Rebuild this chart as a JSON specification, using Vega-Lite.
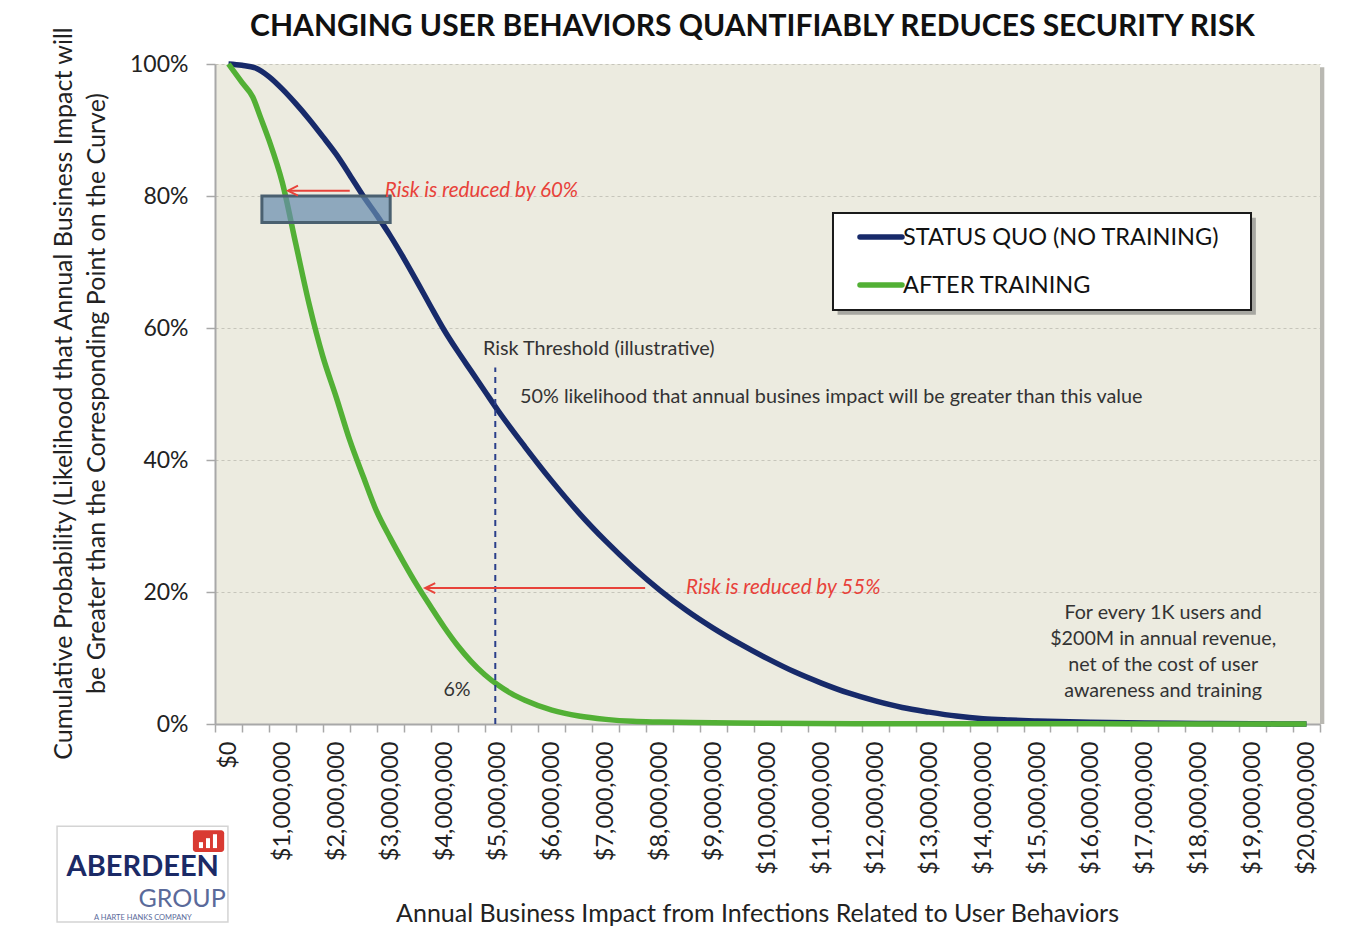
{
  "$schema": "https://vega.github.io/schema/vega-lite/v6.json",
  "width": 1105,
  "height": 660,
  "autosize": {"type": "none"},
  "padding": {"left": 215, "top": 64, "right": 25, "bottom": 202},
  "background": "white",
  "config": {"font": "Lato", "view": {"fill": "#ecebe0", "stroke": null}},
  "title": {"text": "CHANGING USER BEHAVIORS QUANTIFIABLY REDUCES SECURITY RISK", "font": "Lato", "fontSize": 30, "fontWeight": "bold", "color": "#111111", "anchor": "middle", "offset": -16, "dx": -15},
  "datasets": {
    "curves": [
      {"series": "STATUS QUO (NO TRAINING)", "x": 0, "y": 1.0},
      {"series": "STATUS QUO (NO TRAINING)", "x": 250000, "y": 0.998},
      {"series": "STATUS QUO (NO TRAINING)", "x": 500000, "y": 0.994},
      {"series": "STATUS QUO (NO TRAINING)", "x": 750000, "y": 0.981},
      {"series": "STATUS QUO (NO TRAINING)", "x": 1000000, "y": 0.962},
      {"series": "STATUS QUO (NO TRAINING)", "x": 1250000, "y": 0.94},
      {"series": "STATUS QUO (NO TRAINING)", "x": 1500000, "y": 0.916},
      {"series": "STATUS QUO (NO TRAINING)", "x": 1750000, "y": 0.89},
      {"series": "STATUS QUO (NO TRAINING)", "x": 2000000, "y": 0.863},
      {"series": "STATUS QUO (NO TRAINING)", "x": 2250000, "y": 0.832},
      {"series": "STATUS QUO (NO TRAINING)", "x": 2500000, "y": 0.8},
      {"series": "STATUS QUO (NO TRAINING)", "x": 2750000, "y": 0.771},
      {"series": "STATUS QUO (NO TRAINING)", "x": 3000000, "y": 0.74},
      {"series": "STATUS QUO (NO TRAINING)", "x": 3250000, "y": 0.706},
      {"series": "STATUS QUO (NO TRAINING)", "x": 3500000, "y": 0.67},
      {"series": "STATUS QUO (NO TRAINING)", "x": 3750000, "y": 0.633},
      {"series": "STATUS QUO (NO TRAINING)", "x": 4000000, "y": 0.597},
      {"series": "STATUS QUO (NO TRAINING)", "x": 4250000, "y": 0.565},
      {"series": "STATUS QUO (NO TRAINING)", "x": 4500000, "y": 0.535},
      {"series": "STATUS QUO (NO TRAINING)", "x": 4750000, "y": 0.505},
      {"series": "STATUS QUO (NO TRAINING)", "x": 5000000, "y": 0.475},
      {"series": "STATUS QUO (NO TRAINING)", "x": 5500000, "y": 0.42},
      {"series": "STATUS QUO (NO TRAINING)", "x": 6000000, "y": 0.368},
      {"series": "STATUS QUO (NO TRAINING)", "x": 6500000, "y": 0.32},
      {"series": "STATUS QUO (NO TRAINING)", "x": 7000000, "y": 0.277},
      {"series": "STATUS QUO (NO TRAINING)", "x": 7500000, "y": 0.238},
      {"series": "STATUS QUO (NO TRAINING)", "x": 8000000, "y": 0.203},
      {"series": "STATUS QUO (NO TRAINING)", "x": 8500000, "y": 0.172},
      {"series": "STATUS QUO (NO TRAINING)", "x": 9000000, "y": 0.145},
      {"series": "STATUS QUO (NO TRAINING)", "x": 9500000, "y": 0.121},
      {"series": "STATUS QUO (NO TRAINING)", "x": 10000000, "y": 0.099},
      {"series": "STATUS QUO (NO TRAINING)", "x": 10500000, "y": 0.079},
      {"series": "STATUS QUO (NO TRAINING)", "x": 11000000, "y": 0.062},
      {"series": "STATUS QUO (NO TRAINING)", "x": 11500000, "y": 0.047},
      {"series": "STATUS QUO (NO TRAINING)", "x": 12000000, "y": 0.035},
      {"series": "STATUS QUO (NO TRAINING)", "x": 12500000, "y": 0.025},
      {"series": "STATUS QUO (NO TRAINING)", "x": 13000000, "y": 0.018},
      {"series": "STATUS QUO (NO TRAINING)", "x": 13500000, "y": 0.012},
      {"series": "STATUS QUO (NO TRAINING)", "x": 14000000, "y": 0.008},
      {"series": "STATUS QUO (NO TRAINING)", "x": 14500000, "y": 0.006},
      {"series": "STATUS QUO (NO TRAINING)", "x": 15000000, "y": 0.0045},
      {"series": "STATUS QUO (NO TRAINING)", "x": 16000000, "y": 0.0025},
      {"series": "STATUS QUO (NO TRAINING)", "x": 17000000, "y": 0.0015},
      {"series": "STATUS QUO (NO TRAINING)", "x": 18000000, "y": 0.0008},
      {"series": "STATUS QUO (NO TRAINING)", "x": 19000000, "y": 0.0003},
      {"series": "STATUS QUO (NO TRAINING)", "x": 20000000, "y": 0.0},
      {"series": "AFTER TRAINING", "x": 0, "y": 1.0},
      {"series": "AFTER TRAINING", "x": 250000, "y": 0.972},
      {"series": "AFTER TRAINING", "x": 450000, "y": 0.95},
      {"series": "AFTER TRAINING", "x": 600000, "y": 0.918},
      {"series": "AFTER TRAINING", "x": 750000, "y": 0.885},
      {"series": "AFTER TRAINING", "x": 1000000, "y": 0.82},
      {"series": "AFTER TRAINING", "x": 1250000, "y": 0.727},
      {"series": "AFTER TRAINING", "x": 1500000, "y": 0.635},
      {"series": "AFTER TRAINING", "x": 1750000, "y": 0.557},
      {"series": "AFTER TRAINING", "x": 2000000, "y": 0.495},
      {"series": "AFTER TRAINING", "x": 2250000, "y": 0.43},
      {"series": "AFTER TRAINING", "x": 2500000, "y": 0.375},
      {"series": "AFTER TRAINING", "x": 2750000, "y": 0.322},
      {"series": "AFTER TRAINING", "x": 3000000, "y": 0.282},
      {"series": "AFTER TRAINING", "x": 3250000, "y": 0.245},
      {"series": "AFTER TRAINING", "x": 3500000, "y": 0.21},
      {"series": "AFTER TRAINING", "x": 3750000, "y": 0.178},
      {"series": "AFTER TRAINING", "x": 4000000, "y": 0.147},
      {"series": "AFTER TRAINING", "x": 4250000, "y": 0.119},
      {"series": "AFTER TRAINING", "x": 4500000, "y": 0.095},
      {"series": "AFTER TRAINING", "x": 4750000, "y": 0.075},
      {"series": "AFTER TRAINING", "x": 5000000, "y": 0.059},
      {"series": "AFTER TRAINING", "x": 5250000, "y": 0.046},
      {"series": "AFTER TRAINING", "x": 5500000, "y": 0.036},
      {"series": "AFTER TRAINING", "x": 6000000, "y": 0.021},
      {"series": "AFTER TRAINING", "x": 6500000, "y": 0.012},
      {"series": "AFTER TRAINING", "x": 7000000, "y": 0.007},
      {"series": "AFTER TRAINING", "x": 7500000, "y": 0.004},
      {"series": "AFTER TRAINING", "x": 8000000, "y": 0.003},
      {"series": "AFTER TRAINING", "x": 9000000, "y": 0.002},
      {"series": "AFTER TRAINING", "x": 10000000, "y": 0.001},
      {"series": "AFTER TRAINING", "x": 12000000, "y": 0.0005},
      {"series": "AFTER TRAINING", "x": 14000000, "y": 0.0003},
      {"series": "AFTER TRAINING", "x": 16000000, "y": 0.0002},
      {"series": "AFTER TRAINING", "x": 18000000, "y": 0.0001},
      {"series": "AFTER TRAINING", "x": 20000000, "y": 0.0}
    ],
    "highlight": [{"x": 620000, "x2": 3000000, "y": 0.80, "y2": 0.76}],
    "threshold": [{"x": 4950000, "y": 0.0, "y2": 0.54}],
    "arrows": [
      {"x": 2250000, "x2": 1110000, "y": 0.808},
      {"x": 7730000, "x2": 3660000, "y": 0.206}
    ],
    "arrowheads": [
      {"x": 1104000, "y": 0.808},
      {"x": 3650000, "y": 0.206}
    ],
    "redNotes": [
      {"x": 2900000, "y": 0.808, "text": "Risk is reduced by 60%"},
      {"x": 8490000, "y": 0.206, "text": "Risk is reduced by 55%"}
    ],
    "grayNotes": [
      {"x": 4720000, "y": 0.568, "text": "Risk Threshold (illustrative)"},
      {"x": 5410000, "y": 0.495, "text": "50% likelihood that annual busines impact will be greater than this value"}
    ],
    "centerNotes": [
      {"x": 4240000, "y": 0.0515, "text": "6%"},
      {"x": 17340000, "y": 0.168, "text": "For every 1K users and"},
      {"x": 17340000, "y": 0.129, "text": "$200M in annual revenue,"},
      {"x": 17340000, "y": 0.089, "text": "net of the cost of user"},
      {"x": 17340000, "y": 0.05, "text": "awareness and training"}
    ],
    "plotShadow": [{"x": 20250000, "x2": 20330000, "y": 0.0, "y2": 0.995}],
    "legendShadow": [{"x": 11300000, "x2": 19060000, "y": 0.767, "y2": 0.62}],
    "legendBox": [{"x": 11215000, "x2": 18970000, "y": 0.7742, "y2": 0.6273}],
    "legendEntries": [
      {"series": "STATUS QUO (NO TRAINING)", "x": 11716000, "x2": 12495000, "y": 0.7379, "tx": 12514000},
      {"series": "AFTER TRAINING", "x": 11716000, "x2": 12495000, "y": 0.6652, "tx": 12514000}
    ],
    "logoBox": [{"x": -3180000, "x2": -10000, "y": -0.155, "y2": -0.3}],
    "logoIcon": [{"x": -660000, "x2": -80000, "y": -0.161, "y2": -0.194}],
    "logoBars": [
      {"x": -548000, "x2": -473000, "y": -0.188, "y2": -0.179},
      {"x": -417000, "x2": -343000, "y": -0.188, "y2": -0.173},
      {"x": -288000, "x2": -213000, "y": -0.188, "y2": -0.167}
    ],
    "logoMain": [{"x": -1590000, "y": -0.2167, "text": "ABERDEEN"}],
    "logoGroup": [{"x": -50000, "y": -0.2645, "text": "GROUP"}],
    "logoSub": [{"x": -1590000, "y": -0.2935, "text": "A HARTE HANKS COMPANY"}]
  },
  "encoding": {
    "x": {
      "field": "x", "type": "quantitative",
      "scale": {"domain": [-250000, 20250000], "nice": false, "zero": false},
      "axis": {
        "title": "Annual Business Impact from Infections Related to User Behaviors",
        "titleFont": "Lato", "titleFontSize": 25, "titleFontWeight": "normal", "titleColor": "#222222",
        "titleX": 542, "titleY": 189, "titleBaseline": "middle", "titleAlign": "center",
        "values": [-250000, 0, 250000, 500000, 750000, 1000000, 1250000, 1500000, 1750000, 2000000, 2250000, 2500000, 2750000, 3000000, 3250000, 3500000, 3750000, 4000000, 4250000, 4500000, 4750000, 5000000, 5250000, 5500000, 5750000, 6000000, 6250000, 6500000, 6750000, 7000000, 7250000, 7500000, 7750000, 8000000, 8250000, 8500000, 8750000, 9000000, 9250000, 9500000, 9750000, 10000000, 10250000, 10500000, 10750000, 11000000, 11250000, 11500000, 11750000, 12000000, 12250000, 12500000, 12750000, 13000000, 13250000, 13500000, 13750000, 14000000, 14250000, 14500000, 14750000, 15000000, 15250000, 15500000, 15750000, 16000000, 16250000, 16500000, 16750000, 17000000, 17250000, 17500000, 17750000, 18000000, 18250000, 18500000, 18750000, 19000000, 19250000, 19500000, 19750000, 20000000, 20250000],
        "format": "$,.0f",
        "labelExpr": "datum.value % 1000000 === 0 ? datum.label : ''",
        "labelAngle": 270, "labelFont": "Lato", "labelFontSize": 23.5, "labelColor": "#222222", "labelPadding": 9,
        "labelOverlap": false, "labelBound": false, "labelFlush": false,
        "tickSize": 8, "tickColor": "#a8a8a8", "tickWidth": 1.5,
        "tickOpacity": {"condition": {"test": "(datum.value + 250000) % 500000 === 0", "value": 1}, "value": 0},
        "domainColor": "#a8a8a8", "domainWidth": 2, "grid": false
      }
    },
    "y": {
      "field": "y", "type": "quantitative",
      "scale": {"domain": [0, 1], "nice": false},
      "axis": {
        "title": ["Cumulative Probability (Likelihood that Annual Business Impact will", "be Greater than the Corresponding Point on the Curve)"],
        "titleFont": "Lato", "titleFontSize": 25, "titleFontWeight": "normal", "titleColor": "#222222",
        "titleLineHeight": 33, "titleX": -151.5, "titleY": 329, "titleBaseline": "middle", "titleAlign": "center", "titleAngle": 270,
        "values": [0, 0.2, 0.4, 0.6, 0.8, 1.0], "format": ".0%",
        "labelFont": "Lato", "labelFontSize": 23, "labelColor": "#222222", "labelPadding": 18,
        "tickSize": 9, "tickColor": "#a8a8a8", "tickWidth": 1.5,
        "domainColor": "#a8a8a8", "domainWidth": 2,
        "grid": true, "gridColor": "#c6c5bb", "gridDash": [3, 3], "gridWidth": 1
      }
    }
  },
  "layer": [
    {
      "data": {"name": "plotShadow"},
      "mark": {"type": "rect", "color": "#b9b8b2"},
      "encoding": {"x2": {"field": "x2"}, "y2": {"field": "y2"}}
    },
    {
      "data": {"name": "curves"},
      "mark": {"type": "line", "strokeWidth": 5.5, "interpolate": "monotone"},
      "encoding": {
        "color": {
          "field": "series", "type": "nominal",
          "scale": {"domain": ["STATUS QUO (NO TRAINING)", "AFTER TRAINING"], "range": ["#172a6a", "#52b035"]},
          "legend": null
        }
      }
    },
    {
      "data": {"name": "highlight"},
      "mark": {"type": "rect", "fill": "#678cae", "fillOpacity": 0.7, "stroke": "#4a6070", "strokeWidth": 3},
      "encoding": {"x2": {"field": "x2"}, "y2": {"field": "y2"}}
    },
    {
      "data": {"name": "threshold"},
      "mark": {"type": "rule", "color": "#2a3f8a", "strokeWidth": 2, "strokeDash": [6, 5]},
      "encoding": {"y2": {"field": "y2"}}
    },
    {
      "data": {"name": "arrows"},
      "mark": {"type": "rule", "color": "#e8423a", "strokeWidth": 2},
      "encoding": {"x2": {"field": "x2"}}
    },
    {
      "data": {"name": "arrowheads"},
      "mark": {"type": "point", "shape": "M2,-1L0,0L2,1", "size": 100, "filled": false, "stroke": "#e8423a", "strokeWidth": 2, "opacity": 1},
      "encoding": {}
    },
    {
      "data": {"name": "redNotes"},
      "mark": {"type": "text", "font": "Lato", "fontSize": 20.6, "fontStyle": "italic", "color": "#e8423a", "align": "left", "baseline": "middle"},
      "encoding": {"text": {"field": "text"}}
    },
    {
      "data": {"name": "grayNotes"},
      "mark": {"type": "text", "font": "Lato", "fontSize": 19.8, "color": "#333333", "align": "left", "baseline": "middle"},
      "encoding": {"text": {"field": "text"}}
    },
    {
      "data": {"name": "centerNotes"},
      "mark": {"type": "text", "font": "Lato", "fontSize": 19.7, "color": "#333333", "align": "center", "baseline": "middle"},
      "encoding": {"text": {"field": "text"}}
    },
    {
      "data": {"name": "legendShadow"},
      "mark": {"type": "rect", "color": "#8a8a86", "opacity": 0.7},
      "encoding": {"x2": {"field": "x2"}, "y2": {"field": "y2"}}
    },
    {
      "data": {"name": "legendBox"},
      "mark": {"type": "rect", "fill": "white", "stroke": "#1a1a1a", "strokeWidth": 2},
      "encoding": {"x2": {"field": "x2"}, "y2": {"field": "y2"}}
    },
    {
      "data": {"name": "legendEntries"},
      "mark": {"type": "rule", "strokeWidth": 5.5, "strokeCap": "round"},
      "encoding": {"x2": {"field": "x2"}, "color": {"field": "series", "type": "nominal", "legend": null}}
    },
    {
      "data": {"name": "legendEntries"},
      "mark": {"type": "text", "font": "Lato", "fontSize": 23.5, "color": "#111111", "align": "left", "baseline": "middle", "dy": 1},
      "encoding": {"x": {"field": "tx", "type": "quantitative"}, "text": {"field": "series"}}
    },
    {
      "data": {"name": "logoBox"},
      "mark": {"type": "rect", "fill": "white", "stroke": "#d4d4d4", "strokeWidth": 1.5},
      "encoding": {"x2": {"field": "x2"}, "y2": {"field": "y2"}}
    },
    {
      "data": {"name": "logoIcon"},
      "mark": {"type": "rect", "fill": "#d93a32", "cornerRadius": 3},
      "encoding": {"x2": {"field": "x2"}, "y2": {"field": "y2"}}
    },
    {
      "data": {"name": "logoBars"},
      "mark": {"type": "rect", "fill": "white"},
      "encoding": {"x2": {"field": "x2"}, "y2": {"field": "y2"}}
    },
    {
      "data": {"name": "logoMain"},
      "mark": {"type": "text", "font": "Lato", "fontSize": 29, "fontWeight": "bold", "color": "#1b2a66", "align": "center", "baseline": "middle"},
      "encoding": {"text": {"field": "text"}}
    },
    {
      "data": {"name": "logoGroup"},
      "mark": {"type": "text", "font": "Lato", "fontSize": 25, "color": "#5a6a9a", "align": "right", "baseline": "middle"},
      "encoding": {"text": {"field": "text"}}
    },
    {
      "data": {"name": "logoSub"},
      "mark": {"type": "text", "font": "Lato", "fontSize": 7.5, "color": "#5a6a9a", "align": "center", "baseline": "middle"},
      "encoding": {"text": {"field": "text"}}
    }
  ]
}
